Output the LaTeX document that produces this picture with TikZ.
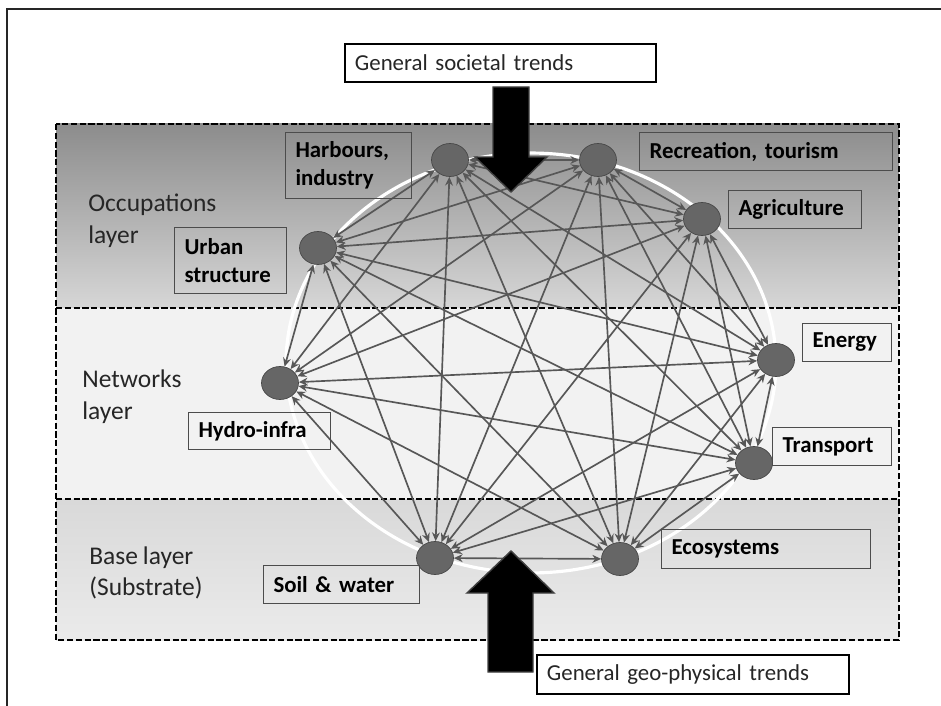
\documentclass[tikz,border=0pt]{standalone}
\usepackage{fontspec}
\setmainfont[WordSpace=0.85]{Carlito}
\usetikzlibrary{arrows.meta,shapes.geometric}

\tikzset{
    layer frame/.style={
      draw=black,
      line width=1.4pt,
      dash pattern=on 3.5pt off 1.5pt
    },
    hub/.style={
      ellipse,
      draw=black!72,
      fill=black!60,
      minimum width=0.74cm,
      minimum height=0.66cm,
      inner sep=0pt
    },
    hub link/.style={
      draw=black!66,
      line width=0.95pt,
      {Stealth[length=5pt,width=4.5pt]}-{Stealth[length=5pt,width=4.5pt]}
    },
    hub label/.style={
      draw=black!70,
      line width=0.6pt,
      anchor=north west,
      inner xsep=0.2cm,
      inner ysep=0pt,
      align=left,
      font=\fontsize{13}{16}\selectfont\bfseries
    },
    trend box/.style={
      draw=black,
      line width=1.1pt,
      fill=white,
      anchor=north west,
      inner xsep=0.2cm,
      inner ysep=0pt,
      align=left,
      text=black!85,
      font=\fontsize{13}{16}\selectfont
    },
    layer label/.style={
      anchor=west,
      inner sep=0pt,
      align=left,
      text=black!85,
      font=\fontsize{14.5}{18}\selectfont
    },
    trend arrow/.style={
      fill=black,
      draw=black!75,
      line width=0.8pt
    }
  }

\begin{document}
\begin{tikzpicture}[x=0.02cm,y=-0.02cm]
      \useasboundingbox (0,0) rectangle (941,706);

      % Rahmen
      \draw[line width=1.1pt, black!85] (7,706) -- (7,9) -- (941,9);

      % Schichten
      \shade[top color=black!45, bottom color=black!16] (56,124) rectangle (899,308);
      \fill[black!5] (56,308) rectangle (899,499);
      \shade[top color=black!15, bottom color=black!8] (56,499) rectangle (899,640);
      \draw[layer frame] (56,124) rectangle (899,640);
      \draw[layer frame] (56,308) -- (899,308);
      \draw[layer frame] (56,499) -- (899,499);

      \node[layer label] (occ) at (88,221) {Occupations\\layer};
      \node[layer label] (net) at (82,397) {Networks\\layer};
      \node[layer label] (base) at (89,573) {Base layer\\(Substrate)};

      % Kreis
      \draw[white, line width=1.8pt] (531,363) ellipse [x radius=4.9cm, y radius=4.2cm];

      % Knoten
      \node[hub] (harb) at (450,160) {};
      \node[hub] (recr) at (598,160) {};
      \node[hub] (agri) at (702,219) {};
      \node[hub] (ener) at (776,360) {};
      \node[hub] (tran) at (754,463) {};
      \node[hub] (ecos) at (620,559) {};
      \node[hub] (soil) at (435,558) {};
      \node[hub] (hydr) at (280,383) {};
      \node[hub] (urba) at (318,248) {};

      % Verbindungen
      \foreach \a [count=\i] in {harb,recr,agri,ener,tran,ecos,soil,hydr,urba}{
        \foreach \b [count=\j] in {harb,recr,agri,ener,tran,ecos,soil,hydr,urba}{
          \ifnum\i<\j \draw[hub link] (\a) -- (\b); \fi
        }
      }

      % Beschriftungen
      \node[hub label, text width=2.12cm, minimum height=1.32cm] (harbtxt) at (285,132) {Harbours,\\industry};
      \node[hub label, text width=4.66cm, minimum height=0.76cm] (recrtxt) at (639,132) {Recreation, tourism};
      \node[hub label, text width=2.26cm, minimum height=0.76cm] (agritxt) at (728,190) {Agriculture};
      \node[hub label, text width=1.38cm, minimum height=0.76cm] (enertxt) at (802,323) {Energy};
      \node[hub label, text width=1.98cm, minimum height=0.76cm] (trantxt) at (772,427) {Transport};
      \node[hub label, text width=3.78cm, minimum height=0.78cm] (ecostxt) at (661,529) {Ecosystems};
      \node[hub label, text width=2.72cm, minimum height=0.76cm] (soiltxt) at (263,565) {Soil \& water};
      \node[hub label, text width=2.44cm, minimum height=0.74cm] (hydrtxt) at (188,412) {Hydro-infra};
      \node[hub label, text width=1.84cm, minimum height=1.32cm] (urbatxt) at (174,227) {Urban\\structure};

      % Trends
      \node[trend box, text width=5.82cm, minimum height=0.76cm] (soc) at (344,43) {General societal trends};
      \node[trend box, text width=5.84cm, minimum height=0.78cm] (geo) at (536,654) {General geo-physical trends};
      \draw[trend arrow] (493,87) -- (529,87) -- (529,157) -- (547,157) -- (511,192)
        -- (475,157) -- (493,157) -- cycle;
      \draw[trend arrow] (511,551) -- (554,593) -- (533,593) -- (533,672) -- (488,672)
        -- (488,593) -- (467,593) -- cycle;
    \end{tikzpicture}
\end{document}
